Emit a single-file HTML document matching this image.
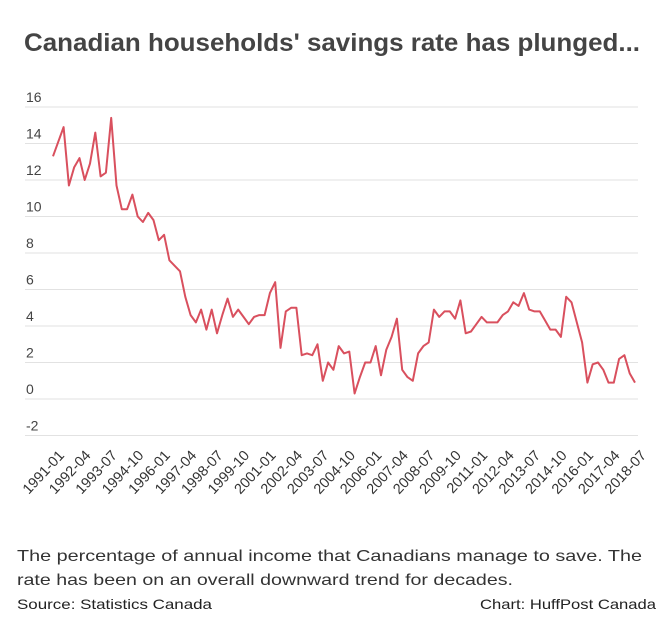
<!DOCTYPE html>
<html><head><meta charset="utf-8"><style>
html,body{margin:0;padding:0;background:#fff;}
svg{display:block;font-family:"Liberation Sans",sans-serif;}
</style></head><body>
<svg id="chart" width="670" height="632" viewBox="0 0 670 632">
<text x="24" y="51" font-size="25" font-weight="bold" fill="#444" textLength="616" lengthAdjust="spacingAndGlyphs">Canadian households' savings rate has plunged...</text>
<g id="grid"></g>
<g id="yticks"></g>
<g id="xticks"></g>
<path id="line" fill="none" stroke="#d9505e" stroke-width="2" stroke-linejoin="round"></path>
<text x="17" y="561" font-size="16" fill="#333" textLength="625" lengthAdjust="spacingAndGlyphs">The percentage of annual income that Canadians manage to save. The</text>
<text x="17" y="585" font-size="16" fill="#333" textLength="496" lengthAdjust="spacingAndGlyphs">rate has been on an overall downward trend for decades.</text>
<text x="17" y="609" font-size="14" fill="#222" textLength="195" lengthAdjust="spacingAndGlyphs">Source: Statistics Canada</text>
<text x="656" y="609" font-size="14" fill="#222" text-anchor="end" textLength="176" lengthAdjust="spacingAndGlyphs">Chart: HuffPost Canada</text>
</svg>
<script>
const yTicks=[16,14,12,10,8,6,4,2,0,-2];
const xLabels=["1991-01","1992-04","1993-07","1994-10","1996-01","1997-04","1998-07","1999-10","2001-01","2002-04","2003-07","2004-10","2006-01","2007-04","2008-07","2009-10","2011-01","2012-04","2013-07","2014-10","2016-01","2017-04","2018-07"];
const values=[13.3,14.1,14.9,11.7,12.7,13.2,12.0,12.9,14.6,12.2,12.4,15.4,11.7,10.4,10.4,11.2,10.0,9.7,10.2,9.8,8.7,9.0,7.6,7.3,7.0,5.6,4.6,4.2,4.9,3.8,4.9,3.6,4.6,5.5,4.5,4.9,4.5,4.1,4.5,4.6,4.6,5.8,6.4,2.8,4.8,5.0,5.0,2.4,2.5,2.4,3.0,1.0,2.0,1.6,2.9,2.5,2.6,0.3,1.2,2.0,2.0,2.9,1.3,2.7,3.4,4.4,1.6,1.2,1.0,2.5,2.9,3.1,4.9,4.5,4.8,4.8,4.4,5.4,3.6,3.7,4.1,4.5,4.2,4.2,4.2,4.6,4.8,5.3,5.1,5.8,4.9,4.8,4.8,4.3,3.8,3.8,3.4,5.6,5.3,4.2,3.1,0.9,1.9,2.0,1.6,0.9,0.9,2.2,2.4,1.4,0.9];
const NS="http://www.w3.org/2000/svg";
const x0=53,x1=635,yZero=399,perUnit=18.25;
const n=values.length;
const xs=i=>x0+(x1-x0)*i/(n-1);
const ys=v=>yZero-v*perUnit;
const grid=document.getElementById('grid'),yt=document.getElementById('yticks'),xt=document.getElementById('xticks');
yTicks.forEach(t=>{
  const l=document.createElementNS(NS,'line');
  l.setAttribute('x1',25);l.setAttribute('x2',638);
  l.setAttribute('y1',ys(t));l.setAttribute('y2',ys(t));
  l.setAttribute('stroke','#e2e2e2');l.setAttribute('stroke-width','1');
  
  
  grid.appendChild(l);
  const tx=document.createElementNS(NS,'text');
  tx.setAttribute('x',26);tx.setAttribute('y',ys(t)-5);
  tx.setAttribute('font-size','14');tx.setAttribute('fill','#444');
  tx.textContent=t;
  
  
  yt.appendChild(tx);
});
xLabels.forEach((lab,k)=>{
  const i=k*5;
  const px=x0+(x1-x0)*i/110+12, py=456;
  const tx=document.createElementNS(NS,'text');
  tx.setAttribute('transform','translate('+px+','+py+') rotate(-47)');
  tx.setAttribute('text-anchor','end');
  tx.setAttribute('font-size','14.5');tx.setAttribute('fill','#333');
  tx.textContent=lab;
  
  
  xt.appendChild(tx);
});
document.getElementById('line').setAttribute('d',values.map((v,i)=>(i?'L':'M')+xs(i).toFixed(1)+','+ys(v).toFixed(1)).join(''));
</script>
</body></html>
